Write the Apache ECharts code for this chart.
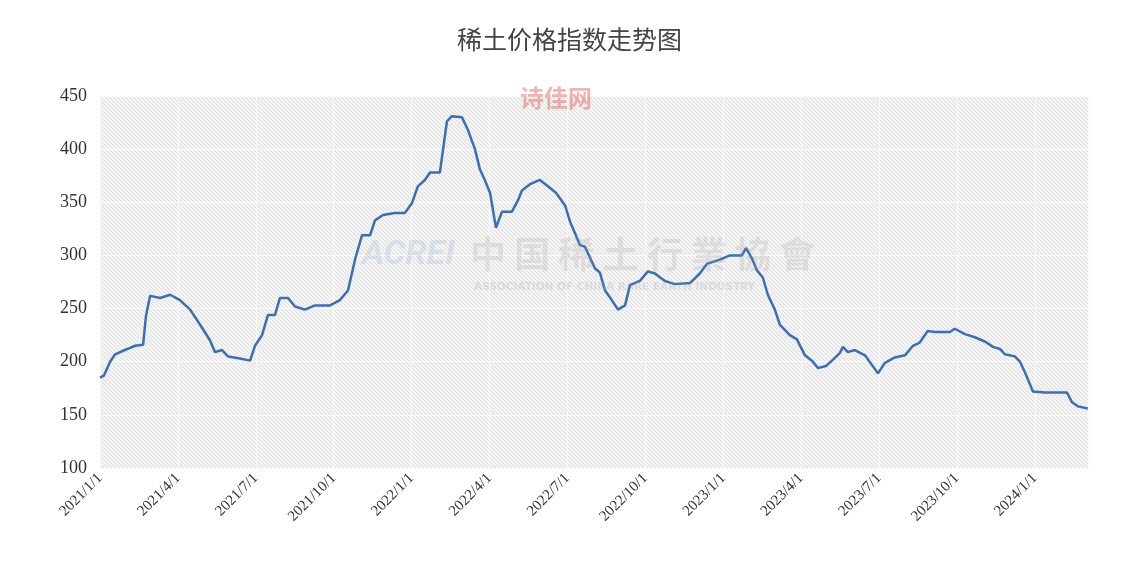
<!DOCTYPE html>
<html><head><meta charset="utf-8">
<script src="https://cdn.jsdelivr.net/npm/echarts@6/dist/echarts.min.js"></script>
<style>html,body{margin:0;padding:0;background:#fff}#c{width:1139px;height:575px}</style>
</head><body><div id="c"></div>
<script>
// x = months elapsed since 2021/1/1
const monthsSince2021 = [0,.15,.39,.58,.96,1.16,1.35,1.66,1.77,1.93,2.12,2.31,2.70,3.08,3.47,3.85,4.24,4.43,4.70,4.93,5.39,5.78,5.97,6.24,6.47,6.74,6.93,7.24,7.51,7.89,8.28,8.86,9.24,9.55,9.82,10.09,10.40,10.59,10.90,11.36,11.74,12.01,12.24,12.51,12.71,13.09,13.36,13.55,13.94,14.17,14.44,14.63,14.82,15.02,15.25,15.48,15.86,16.10,16.25,16.56,16.94,17.25,17.56,17.91,18.10,18.48,18.68,19.06,19.25,19.45,19.71,19.95,20.22,20.41,20.79,21.10,21.37,21.76,22.14,22.72,23.10,23.37,23.87,24.26,24.72,24.88,25.11,25.30,25.53,25.72,25.99,26.18,26.57,26.84,27.15,27.42,27.65,27.96,28.19,28.49,28.61,28.80,29.07,29.46,29.73,29.96,30.23,30.61,31.00,31.31,31.57,31.88,32.15,32.73,32.92,33.31,33.69,34.08,34.39,34.66,34.85,35.23,35.43,35.62,35.93,36.39,37.24,37.43,37.66,38.04];
const indexValues = [185,187,200,207,211,213,215,216,243,262,261,260,263,258,249,235,220,209,211,205,203,201,215,225,244,244,260,260,252,249,253,253,258,267,296,319,319,333,338,340,340,349,365,371,378,378,426,431,430,418,400,381,371,359,326,341,341,352,361,367,371,365,359,347,332,310,308,288,284,267,258,249,253,272,276,285,283,276,273,274,283,292,296,300,300,307,297,286,279,263,249,235,225,221,206,201,194,196,201,208,214,209,211,206,197,189,199,204,206,215,218,229,228,228,231,226,223,219,214,212,207,205,200,190,172,171,171,162,158,156];
const yTicks = [100,150,200,250,300,350,400,450];

const pc = document.createElement('canvas'); pc.width = 4; pc.height = 4;
const g = pc.getContext('2d'); g.fillStyle = '#f3f3f3'; g.fillRect(0,0,4,4);
g.strokeStyle = '#e0e0e0'; g.lineWidth = 1;
g.beginPath(); g.moveTo(0,0); g.lineTo(4,4); g.moveTo(-2,2); g.lineTo(2,6); g.moveTo(2,-2); g.lineTo(6,2); g.stroke();

const serif = '"Liberation Serif","DejaVu Serif",serif';
const chart = echarts.init(document.getElementById('c'));
chart.setOption({
  animation:false,
  title:{text:'稀土价格指数走势图',left:'center',top:22,textStyle:{fontFamily:'"Noto Sans CJK SC",serif',fontWeight:'normal',fontSize:25,color:'#444'}},
  grid:{left:100,right:51,top:96,bottom:107,show:true,borderWidth:0,backgroundColor:{image:pc,repeat:'repeat'}},
  graphic:[
    {type:'text',left:520,top:86,style:{text:'诗佳网',fontSize:24,fontWeight:'bold',fill:'rgba(220,90,90,0.45)',fontFamily:'"Noto Sans CJK SC"'},z:100},
    {type:'text',left:362,top:238,style:{text:'ACREI',fontSize:34,fontStyle:'italic',fontWeight:'bold',fill:'rgba(120,160,210,0.2)',fontFamily:'Roboto'},z:100},
    {type:'text',left:470,top:236,style:{text:'中 国 稀 土 行 業 協 會',fontSize:36,fontWeight:'bold',fill:'rgba(150,150,150,0.2)',fontFamily:'"Noto Sans CJK TC"'},z:100},
    {type:'text',left:474,top:282,style:{text:'ASSOCIATION OF CHINA RARE EARTH INDUSTRY',fontSize:10.5,fontWeight:'bold',fill:'rgba(150,150,150,0.22)',fontFamily:'"DejaVu Sans"'},z:100}
  ],
  xAxis:{type:'value',min:0,max:38.05,interval:3,
    axisLine:{show:false},axisTick:{show:false},
    splitLine:{show:true,lineStyle:{color:'#fafafa',width:1}},
    axisLabel:{rotate:45,fontFamily:serif,fontSize:15,color:'#333',margin:8,showMaxLabel:false,
      formatter:v=>{const y=2021+Math.floor(v/12);const m=Math.round(v%12)+1;return y+'/'+m+'/1';}}},
  yAxis:{type:'value',min:100,max:450,interval:50,
    axisLine:{show:false},axisTick:{show:false},
    splitLine:{show:true,lineStyle:{color:'#fafafa',width:1}},
    axisLabel:{fontFamily:serif,fontSize:18,color:'#333',margin:13,formatter:v=>yTicks.includes(v)?String(v):''}},
  series:[{type:'line',data:monthsSince2021.map((m,i)=>[m,indexValues[i]]),showSymbol:false,
    lineStyle:{color:'#3d6fb0',width:2.5},z:10}]
});
</script></body></html>
